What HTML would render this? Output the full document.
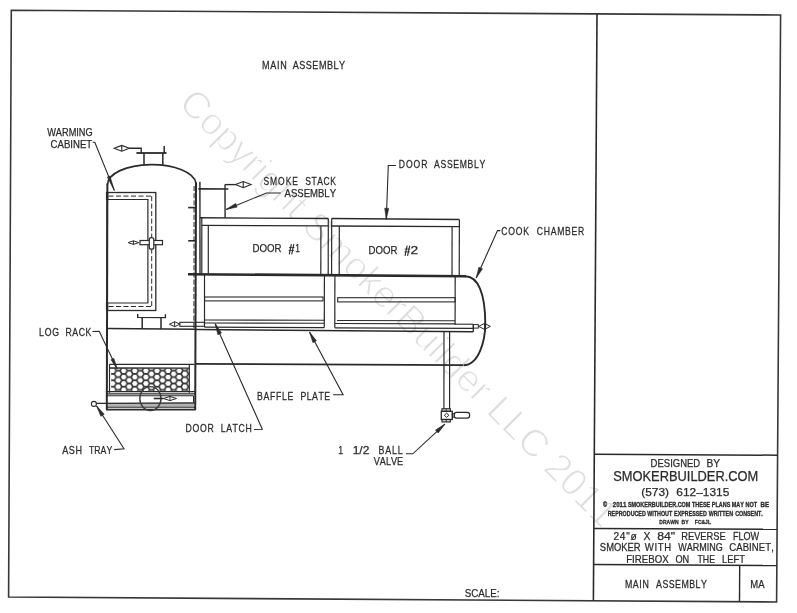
<!DOCTYPE html>
<html><head><meta charset="utf-8"><title>Main Assembly</title>
<style>
html,body{margin:0;padding:0;background:#fff;width:797px;height:613px;overflow:hidden}
svg text{font-family:"Liberation Sans",sans-serif;font-kerning:none}
</style></head>
<body>
<svg width="797" height="613" viewBox="0 0 797 613" font-family="Liberation Sans, sans-serif" style="display:block;font-kerning:none;filter:grayscale(1)"><defs>
<pattern id="hex" patternUnits="userSpaceOnUse" width="11.1" height="6.4" x="112.6" y="367.5">
<rect width="11.1" height="6.4" fill="#383838"/><polygon points="-2.750,0 -1.375,-2.382 1.375,-2.382 2.750,0 1.375,2.382 -1.375,2.382" fill="#fff" transform="translate(0 3.2)"/><polygon points="-2.750,0 -1.375,-2.382 1.375,-2.382 2.750,0 1.375,2.382 -1.375,2.382" fill="#fff" transform="translate(11.1 3.2)"/><polygon points="-2.750,0 -1.375,-2.382 1.375,-2.382 2.750,0 1.375,2.382 -1.375,2.382" fill="#fff" transform="translate(5.55 0)"/><polygon points="-2.750,0 -1.375,-2.382 1.375,-2.382 2.750,0 1.375,2.382 -1.375,2.382" fill="#fff" transform="translate(5.55 6.4)"/>
</pattern>
</defs><rect width="797" height="613" fill="#fff"/><text x="0" y="0" font-size="38.2" fill="#dedede" stroke="#fff" stroke-width="1.2" transform="translate(177.2 104.4) rotate(45)" font-family="Liberation Sans">Copyright SmokerBuilder LLC 2011</text>
<path d="M11.30 10.30 L780.60 15.00 L776.60 602.00 L8.60 597.00 Z" stroke="#383838" stroke-width="1.6" fill="none" stroke-linejoin="miter" />
<line x1="597.00" y1="14.00" x2="593.40" y2="600.60" stroke="#2a2a2a" stroke-width="1.6" />
<line x1="594.70" y1="454.20" x2="777.60" y2="455.20" stroke="#2a2a2a" stroke-width="1.5" />
<line x1="593.90" y1="528.40" x2="777.00" y2="529.20" stroke="#2a2a2a" stroke-width="1.5" />
<line x1="593.60" y1="564.40" x2="776.80" y2="565.60" stroke="#2a2a2a" stroke-width="1.5" />
<line x1="739.70" y1="565.50" x2="739.50" y2="601.90" stroke="#2a2a2a" stroke-width="1.4" />
<line x1="107.40" y1="183.50" x2="106.80" y2="409.80" stroke="#2a2a2a" stroke-width="2.0" />
<line x1="196.00" y1="182.50" x2="195.20" y2="409.80" stroke="#2a2a2a" stroke-width="2.0" />
<path d="M107.5 184.5 A44.3 20 0 0 1 196.0 183.2" stroke="#2a2a2a" stroke-width="1.7" fill="none" />
<line x1="188.20" y1="207.60" x2="195.60" y2="207.60" stroke="#2a2a2a" stroke-width="1.6" />
<line x1="188.20" y1="240.80" x2="195.50" y2="240.80" stroke="#2a2a2a" stroke-width="1.6" />
<line x1="136.40" y1="153.00" x2="166.50" y2="153.00" stroke="#2a2a2a" stroke-width="1.8" />
<line x1="144.00" y1="153.00" x2="144.00" y2="164.60" stroke="#2a2a2a" stroke-width="1.5" />
<line x1="162.80" y1="153.00" x2="162.80" y2="165.00" stroke="#2a2a2a" stroke-width="1.5" />
<line x1="164.20" y1="146.00" x2="164.20" y2="153.50" stroke="#2a2a2a" stroke-width="1.5" />
<path d="M129.30 148.30 L141.20 148.30 L141.20 153.00" stroke="#2a2a2a" stroke-width="1.4" fill="none" stroke-linejoin="miter" />
<path d="M114.20 148.30 L121.75 145.45 L129.30 148.30 L121.75 151.15 Z" stroke="#2a2a2a" stroke-width="1.1" fill="none" stroke-linejoin="miter" />
<line x1="121.75" y1="145.45" x2="121.75" y2="151.15" stroke="#2a2a2a" stroke-width="1.1" />
<rect x="107.00" y="192.50" width="48.80" height="118.00" stroke="#2a2a2a" stroke-width="1.3" fill="none" />
<path d="M107.00 199.50 L147.90 199.50 L147.90 303.00 L107.00 303.00" stroke="#2a2a2a" stroke-width="1.2" fill="none" stroke-linejoin="miter" />
<line x1="108.50" y1="196.10" x2="151.70" y2="196.10" stroke="#2a2a2a" stroke-width="1.0" stroke-dasharray="5 2.5"/>
<line x1="151.70" y1="196.10" x2="151.70" y2="306.50" stroke="#2a2a2a" stroke-width="1.0" stroke-dasharray="5 2.5"/>
<line x1="108.50" y1="306.50" x2="151.70" y2="306.50" stroke="#2a2a2a" stroke-width="1.0" stroke-dasharray="5 2.5"/>
<rect x="106.20" y="192.50" width="1.80" height="7.00" stroke="#2a2a2a" stroke-width="0.6" fill="#2a2a2a" />
<rect x="106.20" y="303.00" width="1.80" height="7.50" stroke="#2a2a2a" stroke-width="0.6" fill="#2a2a2a" />
<path d="M128.10 242.60 L133.45 240.80 L138.80 242.60 L133.45 244.40 Z" stroke="#2a2a2a" stroke-width="1.0" fill="none" stroke-linejoin="miter" />
<line x1="133.45" y1="240.80" x2="133.45" y2="244.40" stroke="#2a2a2a" stroke-width="1.0" />
<rect x="140.00" y="240.50" width="22.50" height="4.20" stroke="#2a2a2a" stroke-width="1.2" fill="#fff" />
<rect x="149.3" y="237.6" width="4.5" height="11.6" rx="2" stroke="#2a2a2a" stroke-width="1.2" fill="#fff"/>
<path d="M137.70 314.00 L137.70 317.40 L165.40 317.60 L165.40 314.20" stroke="#2a2a2a" stroke-width="1.4" fill="none" stroke-linejoin="miter" />
<line x1="142.20" y1="317.40" x2="142.20" y2="328.80" stroke="#2a2a2a" stroke-width="1.5" />
<line x1="161.00" y1="317.50" x2="161.00" y2="329.00" stroke="#2a2a2a" stroke-width="1.5" />
<line x1="107.00" y1="328.60" x2="195.50" y2="329.20" stroke="#2a2a2a" stroke-width="1.5" />
<path d="M169.40 324.20 L174.65 321.70 L179.90 324.20 L174.65 326.70 Z" stroke="#2a2a2a" stroke-width="1.0" fill="none" stroke-linejoin="miter" />
<line x1="174.65" y1="321.70" x2="174.65" y2="326.70" stroke="#2a2a2a" stroke-width="1.0" />
<rect x="179.90" y="322.30" width="24.60" height="4.00" stroke="#2a2a2a" stroke-width="1.1" fill="none" />
<rect x="111.2" y="368.3" width="77.9" height="22.6" fill="url(#hex)" stroke="none"/>
<line x1="109.30" y1="364.30" x2="194.50" y2="364.40" stroke="#2a2a2a" stroke-width="1.2" />
<line x1="109.30" y1="368.00" x2="189.40" y2="368.10" stroke="#2a2a2a" stroke-width="1.3" />
<line x1="109.50" y1="364.30" x2="109.50" y2="392.80" stroke="#2a2a2a" stroke-width="1.2" />
<line x1="189.30" y1="364.40" x2="189.30" y2="392.80" stroke="#2a2a2a" stroke-width="1.2" />
<line x1="107.00" y1="391.60" x2="195.00" y2="391.60" stroke="#2a2a2a" stroke-width="1.3" />
<line x1="107.00" y1="393.90" x2="195.00" y2="393.90" stroke="#2a2a2a" stroke-width="1.3" />
<line x1="107.00" y1="395.80" x2="193.50" y2="395.80" stroke="#2a2a2a" stroke-width="1.1" />
<line x1="193.50" y1="395.80" x2="193.50" y2="402.50" stroke="#2a2a2a" stroke-width="1.0" />
<line x1="96.40" y1="403.40" x2="195.00" y2="403.00" stroke="#2a2a2a" stroke-width="1.4" />
<line x1="107.00" y1="405.00" x2="195.00" y2="405.00" stroke="#666" stroke-width="1.0" />
<line x1="107.00" y1="407.20" x2="195.00" y2="407.20" stroke="#2a2a2a" stroke-width="1.2" />
<line x1="106.00" y1="409.60" x2="195.80" y2="409.60" stroke="#2a2a2a" stroke-width="1.8" />
<ellipse cx="150.4" cy="398.6" rx="10.6" ry="12.0" stroke="#3a3a3a" stroke-width="1.4" fill="none"/>
<line x1="153.70" y1="398.50" x2="163.40" y2="398.50" stroke="#2a2a2a" stroke-width="1.6" />
<path d="M163.40 398.50 L169.95 396.40 L176.50 398.50 L169.95 400.60 Z" stroke="#2a2a2a" stroke-width="1.0" fill="none" stroke-linejoin="miter" />
<line x1="169.95" y1="396.40" x2="169.95" y2="400.60" stroke="#2a2a2a" stroke-width="1.0" />
<circle cx="93.9" cy="403.9" r="2.5" stroke="#2a2a2a" stroke-width="1.1" fill="#fff"/>
<line x1="194.10" y1="186.00" x2="193.90" y2="328.00" stroke="#2a2a2a" stroke-width="1.0" stroke-dasharray="5 2.2"/>
<line x1="199.90" y1="181.70" x2="200.00" y2="274.00" stroke="#2a2a2a" stroke-width="1.4" />
<line x1="198.40" y1="188.80" x2="228.40" y2="189.00" stroke="#2a2a2a" stroke-width="1.7" />
<line x1="225.00" y1="184.60" x2="225.10" y2="217.80" stroke="#2a2a2a" stroke-width="1.4" />
<line x1="225.00" y1="184.60" x2="235.50" y2="184.60" stroke="#2a2a2a" stroke-width="1.4" />
<path d="M235.50 184.60 L243.25 181.50 L251.00 184.60 L243.25 187.70 Z" stroke="#2a2a2a" stroke-width="1.1" fill="none" stroke-linejoin="miter" />
<line x1="243.25" y1="181.50" x2="243.25" y2="187.70" stroke="#2a2a2a" stroke-width="1.1" />
<line x1="199.90" y1="217.80" x2="328.40" y2="218.50" stroke="#2a2a2a" stroke-width="1.4" />
<line x1="201.80" y1="225.40" x2="328.40" y2="225.90" stroke="#2a2a2a" stroke-width="1.3" />
<line x1="201.80" y1="217.80" x2="201.80" y2="273.50" stroke="#2a2a2a" stroke-width="1.2" />
<line x1="328.30" y1="218.40" x2="328.20" y2="274.20" stroke="#2a2a2a" stroke-width="1.2" />
<line x1="208.30" y1="225.40" x2="208.30" y2="273.60" stroke="#2a2a2a" stroke-width="1.2" />
<line x1="320.90" y1="225.90" x2="320.80" y2="274.20" stroke="#2a2a2a" stroke-width="1.2" />
<line x1="331.60" y1="218.50" x2="459.40" y2="219.50" stroke="#2a2a2a" stroke-width="1.4" />
<line x1="331.60" y1="226.00" x2="459.40" y2="226.60" stroke="#2a2a2a" stroke-width="1.3" />
<line x1="331.70" y1="218.50" x2="331.60" y2="274.40" stroke="#2a2a2a" stroke-width="1.2" />
<line x1="459.40" y1="219.50" x2="459.20" y2="275.60" stroke="#2a2a2a" stroke-width="1.2" />
<line x1="339.30" y1="226.00" x2="339.20" y2="274.50" stroke="#2a2a2a" stroke-width="1.2" />
<line x1="452.10" y1="226.60" x2="452.00" y2="275.40" stroke="#2a2a2a" stroke-width="1.2" />
<line x1="188.00" y1="274.20" x2="466.00" y2="276.20" stroke="#2a2a2a" stroke-width="2.6" />
<path d="M465.0 276.2 C478.0 276.3, 485.3 293, 485.3 324 C485.3 340, 479 365.2, 463.5 365.2" stroke="#2a2a2a" stroke-width="1.9" fill="none" />
<line x1="195.50" y1="363.80" x2="463.00" y2="365.20" stroke="#2a2a2a" stroke-width="1.7" />
<line x1="455.20" y1="276.00" x2="455.10" y2="325.00" stroke="#2a2a2a" stroke-width="1.2" />
<line x1="204.50" y1="274.10" x2="204.50" y2="327.20" stroke="#2a2a2a" stroke-width="1.2" />
<line x1="324.40" y1="274.80" x2="324.30" y2="327.60" stroke="#2a2a2a" stroke-width="1.2" />
<line x1="334.90" y1="274.80" x2="334.80" y2="327.80" stroke="#2a2a2a" stroke-width="1.2" />
<rect x="204.60" y="297.00" width="118.40" height="3.90" stroke="#2a2a2a" stroke-width="1.1" fill="none" />
<rect x="337.70" y="297.70" width="117.40" height="4.20" stroke="#2a2a2a" stroke-width="1.1" fill="none" />
<path d="M204.60 320.00 L324.30 320.30" stroke="#2a2a2a" stroke-width="1.1" fill="none" stroke-linejoin="miter" />
<path d="M204.60 323.00 L324.30 323.30" stroke="#2a2a2a" stroke-width="1.1" fill="none" stroke-linejoin="miter" />
<path d="M204.50 327.20 L324.30 327.60" stroke="#2a2a2a" stroke-width="1.2" fill="none" stroke-linejoin="miter" />
<path d="M337.00 320.50 L455.00 320.80" stroke="#2a2a2a" stroke-width="1.1" fill="none" stroke-linejoin="miter" />
<path d="M334.90 323.50 L455.00 323.90" stroke="#2a2a2a" stroke-width="1.1" fill="none" stroke-linejoin="miter" />
<path d="M334.90 327.80 L473.30 328.40" stroke="#2a2a2a" stroke-width="1.2" fill="none" stroke-linejoin="miter" />
<line x1="195.50" y1="329.60" x2="473.30" y2="331.70" stroke="#2a2a2a" stroke-width="1.5" />
<line x1="473.30" y1="324.20" x2="473.30" y2="331.80" stroke="#2a2a2a" stroke-width="1.3" />
<line x1="455.00" y1="324.20" x2="473.30" y2="324.20" stroke="#2a2a2a" stroke-width="1.1" />
<rect x="473.30" y="324.60" width="5.00" height="3.50" stroke="#2a2a2a" stroke-width="1.0" fill="none" />
<path d="M478.60 326.40 L484.50 323.40 L490.40 326.40 L484.50 329.40 Z" stroke="#2a2a2a" stroke-width="1.0" fill="none" stroke-linejoin="miter" />
<line x1="484.50" y1="323.40" x2="484.50" y2="329.40" stroke="#2a2a2a" stroke-width="1.0" />
<line x1="444.00" y1="331.60" x2="443.90" y2="408.80" stroke="#2a2a2a" stroke-width="1.2" />
<line x1="449.60" y1="331.80" x2="449.60" y2="408.80" stroke="#2a2a2a" stroke-width="1.2" />
<rect x="442.00" y="408.80" width="8.30" height="2.50" stroke="#2a2a2a" stroke-width="1.2" fill="none" />
<line x1="446.20" y1="408.80" x2="446.20" y2="411.30" stroke="#2a2a2a" stroke-width="1.0" />
<rect x="441.30" y="411.30" width="11.00" height="8.20" stroke="#2a2a2a" stroke-width="1.3" fill="none" />
<path d="M444.30 415.30 L446.60 413.20 L448.90 415.30 L446.60 417.40 Z" stroke="#2a2a2a" stroke-width="1.0" fill="none" stroke-linejoin="miter" />
<rect x="452.30" y="413.70" width="2.00" height="3.50" stroke="#2a2a2a" stroke-width="1.0" fill="none" />
<rect x="454.2" y="412.4" width="15.4" height="5.8" rx="2.4" stroke="#2a2a2a" stroke-width="1.2" fill="none"/>
<rect x="442.00" y="419.50" width="8.30" height="2.40" stroke="#2a2a2a" stroke-width="1.2" fill="none" />
<line x1="446.20" y1="419.50" x2="446.20" y2="421.90" stroke="#2a2a2a" stroke-width="1.0" />
<path d="M92.60 142.20 L94.80 142.20 L114.30 190.40" stroke="#2a2a2a" stroke-width="1.1" fill="none" stroke-linejoin="miter" />
<path d="M114.30 190.40 L109.97 175.97 L107.38 177.02 Z" stroke="#2a2a2a" stroke-width="0.6" fill="#2a2a2a" stroke-linejoin="miter" />
<path d="M280.70 193.00 L266.50 193.00 L226.20 209.40" stroke="#2a2a2a" stroke-width="1.1" fill="none" stroke-linejoin="miter" />
<path d="M226.20 209.40 L237.14 207.11 L235.63 203.40 Z" stroke="#2a2a2a" stroke-width="0.6" fill="#2a2a2a" stroke-linejoin="miter" />
<path d="M396.10 165.50 L388.30 165.50 L386.30 219.30" stroke="#2a2a2a" stroke-width="1.1" fill="none" stroke-linejoin="miter" />
<path d="M386.30 219.30 L388.71 208.38 L384.71 208.23 Z" stroke="#2a2a2a" stroke-width="0.6" fill="#2a2a2a" stroke-linejoin="miter" />
<path d="M500.40 230.60 L497.50 230.60 L476.20 278.00" stroke="#2a2a2a" stroke-width="1.1" fill="none" stroke-linejoin="miter" />
<path d="M476.20 278.00 L482.53 268.79 L478.88 267.15 Z" stroke="#2a2a2a" stroke-width="0.6" fill="#2a2a2a" stroke-linejoin="miter" />
<path d="M92.50 331.50 L99.20 331.30 L117.20 369.00" stroke="#2a2a2a" stroke-width="1.1" fill="none" stroke-linejoin="miter" />
<path d="M117.20 369.00 L113.90 358.38 L111.02 359.76 Z" stroke="#2a2a2a" stroke-width="0.6" fill="#2a2a2a" stroke-linejoin="miter" />
<path d="M333.10 394.80 L343.10 394.80 L309.50 332.00" stroke="#2a2a2a" stroke-width="1.1" fill="none" stroke-linejoin="miter" />
<path d="M309.50 332.00 L312.93 342.64 L316.45 340.76 Z" stroke="#2a2a2a" stroke-width="0.6" fill="#2a2a2a" stroke-linejoin="miter" />
<path d="M254.10 429.50 L262.30 429.20 L215.20 323.80" stroke="#2a2a2a" stroke-width="1.1" fill="none" stroke-linejoin="miter" />
<path d="M215.20 323.80 L217.86 334.66 L221.51 333.03 Z" stroke="#2a2a2a" stroke-width="0.6" fill="#2a2a2a" stroke-linejoin="miter" />
<path d="M114.20 449.60 L124.00 448.80 L96.60 406.00" stroke="#2a2a2a" stroke-width="1.1" fill="none" stroke-linejoin="miter" />
<path d="M96.60 406.00 L100.85 416.34 L104.22 414.19 Z" stroke="#2a2a2a" stroke-width="0.6" fill="#2a2a2a" stroke-linejoin="miter" />
<path d="M405.90 453.80 L412.80 453.80 L444.90 424.10" stroke="#2a2a2a" stroke-width="1.1" fill="none" stroke-linejoin="miter" />
<path d="M444.90 424.10 L435.47 430.10 L438.18 433.04 Z" stroke="#2a2a2a" stroke-width="0.6" fill="#2a2a2a" stroke-linejoin="miter" />
<text x="650.62" y="466.80" font-size="10.90" font-weight="normal" textLength="49.63" lengthAdjust="spacingAndGlyphs" fill="#2a2a2a"  stroke="#2a2a2a" stroke-width="0.25">DESIGNED</text>
<text x="706.57" y="466.80" font-size="10.90" font-weight="normal" textLength="13.56" lengthAdjust="spacingAndGlyphs" fill="#2a2a2a"  stroke="#2a2a2a" stroke-width="0.25">BY</text>
<text x="613.22" y="480.70" font-size="13.95" font-weight="normal" textLength="145.04" lengthAdjust="spacingAndGlyphs" fill="#2a2a2a"  stroke="#2a2a2a" stroke-width="0.25">SMOKERBUILDER.COM</text>
<text x="641.17" y="496.00" font-size="11.05" font-weight="normal" textLength="27.85" lengthAdjust="spacingAndGlyphs" fill="#2a2a2a"  stroke="#2a2a2a" stroke-width="0.25">(573)</text>
<text x="676.26" y="496.00" font-size="11.05" font-weight="normal" textLength="53.08" lengthAdjust="spacingAndGlyphs" fill="#2a2a2a"  stroke="#2a2a2a" stroke-width="0.25">612–1315</text>
<text x="603.11" y="507.20" font-size="6.83" font-weight="bold" textLength="4.17" lengthAdjust="spacingAndGlyphs" fill="#2a2a2a"  stroke="#2a2a2a" stroke-width="0.3">©</text>
<text x="612.79" y="507.20" font-size="6.83" font-weight="bold" textLength="13.68" lengthAdjust="spacingAndGlyphs" fill="#2a2a2a"  stroke="#2a2a2a" stroke-width="0.3">2011</text>
<text x="627.88" y="507.20" font-size="6.83" font-weight="bold" textLength="62.55" lengthAdjust="spacingAndGlyphs" fill="#2a2a2a"  stroke="#2a2a2a" stroke-width="0.3">SMOKERBUILDER.COM</text>
<text x="691.97" y="507.20" font-size="6.83" font-weight="bold" textLength="18.22" lengthAdjust="spacingAndGlyphs" fill="#2a2a2a"  stroke="#2a2a2a" stroke-width="0.3">THESE</text>
<text x="711.86" y="507.20" font-size="6.83" font-weight="bold" textLength="18.52" lengthAdjust="spacingAndGlyphs" fill="#2a2a2a"  stroke="#2a2a2a" stroke-width="0.3">PLANS</text>
<text x="731.74" y="507.20" font-size="6.83" font-weight="bold" textLength="12.14" lengthAdjust="spacingAndGlyphs" fill="#2a2a2a"  stroke="#2a2a2a" stroke-width="0.3">MAY</text>
<text x="745.48" y="507.20" font-size="6.83" font-weight="bold" textLength="11.54" lengthAdjust="spacingAndGlyphs" fill="#2a2a2a"  stroke="#2a2a2a" stroke-width="0.3">NOT</text>
<text x="760.59" y="507.20" font-size="6.83" font-weight="bold" textLength="8.55" lengthAdjust="spacingAndGlyphs" fill="#2a2a2a"  stroke="#2a2a2a" stroke-width="0.3">BE</text>
<text x="607.76" y="515.90" font-size="6.69" font-weight="bold" textLength="38.04" lengthAdjust="spacingAndGlyphs" fill="#2a2a2a"  stroke="#2a2a2a" stroke-width="0.3">REPRODUCED</text>
<text x="647.30" y="515.90" font-size="6.69" font-weight="bold" textLength="24.96" lengthAdjust="spacingAndGlyphs" fill="#2a2a2a"  stroke="#2a2a2a" stroke-width="0.3">WITHOUT</text>
<text x="674.08" y="515.90" font-size="6.69" font-weight="bold" textLength="32.70" lengthAdjust="spacingAndGlyphs" fill="#2a2a2a"  stroke="#2a2a2a" stroke-width="0.3">EXPRESSED</text>
<text x="708.65" y="515.90" font-size="6.69" font-weight="bold" textLength="24.36" lengthAdjust="spacingAndGlyphs" fill="#2a2a2a"  stroke="#2a2a2a" stroke-width="0.3">WRITTEN</text>
<text x="735.16" y="515.90" font-size="6.69" font-weight="bold" textLength="27.64" lengthAdjust="spacingAndGlyphs" fill="#2a2a2a"  stroke="#2a2a2a" stroke-width="0.3">CONSENT.</text>
<text x="659.37" y="524.00" font-size="6.25" font-weight="bold" textLength="19.16" lengthAdjust="spacingAndGlyphs" fill="#2a2a2a"  stroke="#2a2a2a" stroke-width="0.3">DRAWN</text>
<text x="681.55" y="524.00" font-size="6.25" font-weight="bold" textLength="6.95" lengthAdjust="spacingAndGlyphs" fill="#2a2a2a"  stroke="#2a2a2a" stroke-width="0.3">BY</text>
<text x="694.85" y="524.00" font-size="6.25" font-weight="bold" textLength="16.11" lengthAdjust="spacingAndGlyphs" fill="#2a2a2a"  stroke="#2a2a2a" stroke-width="0.3">FC&amp;JL</text>
<text x="0" y="0" font-size="11.34" font-weight="normal" letter-spacing="0.683" transform="translate(613.59 539.50) scale(0.900 1)" fill="#2a2a2a"  stroke="#2a2a2a" stroke-width="0.25">24"ø</text>
<text x="643.47" y="539.50" font-size="11.34" font-weight="normal" textLength="6.95" lengthAdjust="spacingAndGlyphs" fill="#2a2a2a"  stroke="#2a2a2a" stroke-width="0.25">X</text>
<text x="657.21" y="539.50" font-size="11.34" font-weight="normal" textLength="17.97" lengthAdjust="spacingAndGlyphs" fill="#2a2a2a"  stroke="#2a2a2a" stroke-width="0.25">84"</text>
<text x="0" y="0" font-size="11.34" font-weight="normal" letter-spacing="0.000" transform="translate(681.24 539.50) scale(0.821 1)" fill="#2a2a2a"  stroke="#2a2a2a" stroke-width="0.25">REVERSE</text>
<text x="0" y="0" font-size="11.34" font-weight="normal" letter-spacing="0.000" transform="translate(732.95 539.50) scale(0.802 1)" fill="#2a2a2a"  stroke="#2a2a2a" stroke-width="0.25">FLOW</text>
<text x="0" y="0" font-size="10.61" font-weight="normal" letter-spacing="0.000" transform="translate(599.87 550.80) scale(0.886 1)" fill="#2a2a2a"  stroke="#2a2a2a" stroke-width="0.25">SMOKER</text>
<text x="0" y="0" font-size="10.61" font-weight="normal" letter-spacing="0.676" transform="translate(644.86 550.80) scale(0.900 1)" fill="#2a2a2a"  stroke="#2a2a2a" stroke-width="0.25">WITH</text>
<text x="0" y="0" font-size="10.61" font-weight="normal" letter-spacing="0.000" transform="translate(678.26 550.80) scale(0.850 1)" fill="#2a2a2a"  stroke="#2a2a2a" stroke-width="0.25">WARMING</text>
<text x="0" y="0" font-size="10.61" font-weight="normal" letter-spacing="0.096" transform="translate(729.22 550.80) scale(0.900 1)" fill="#2a2a2a"  stroke="#2a2a2a" stroke-width="0.25">CABINET,</text>
<text x="0" y="0" font-size="10.76" font-weight="normal" letter-spacing="0.000" transform="translate(626.21 562.60) scale(0.898 1)" fill="#2a2a2a"  stroke="#2a2a2a" stroke-width="0.25">FIREBOX</text>
<text x="0" y="0" font-size="10.76" font-weight="normal" letter-spacing="0.000" transform="translate(675.46 562.60) scale(0.854 1)" fill="#2a2a2a"  stroke="#2a2a2a" stroke-width="0.25">ON</text>
<text x="0" y="0" font-size="10.76" font-weight="normal" letter-spacing="0.000" transform="translate(697.50 562.60) scale(0.812 1)" fill="#2a2a2a"  stroke="#2a2a2a" stroke-width="0.25">THE</text>
<text x="0" y="0" font-size="10.76" font-weight="normal" letter-spacing="0.000" transform="translate(722.03 562.60) scale(0.874 1)" fill="#2a2a2a"  stroke="#2a2a2a" stroke-width="0.25">LEFT</text>
<text x="0" y="0" font-size="11.05" font-weight="normal" letter-spacing="0.772" transform="translate(624.88 587.70) scale(0.800 1)" fill="#2a2a2a"  stroke="#2a2a2a" stroke-width="0.25">MAIN</text>
<text x="0" y="0" font-size="11.05" font-weight="normal" letter-spacing="0.566" transform="translate(656.08 587.70) scale(0.800 1)" fill="#2a2a2a"  stroke="#2a2a2a" stroke-width="0.25">ASSEMBLY</text>
<text x="750.32" y="587.80" font-size="11.05" font-weight="normal" textLength="14.30" lengthAdjust="spacingAndGlyphs" fill="#2a2a2a"  stroke="#2a2a2a" stroke-width="0.25">MA</text>
<text x="464.66" y="597.20" font-size="11.63" font-weight="normal" textLength="34.84" lengthAdjust="spacingAndGlyphs" fill="#2a2a2a"  stroke="#2a2a2a" stroke-width="0.25">SCALE:</text>
<text x="0" y="0" font-size="11.34" font-weight="normal" letter-spacing="0.837" transform="translate(262.06 68.50) scale(0.800 1)" fill="#2a2a2a"  stroke="#2a2a2a" stroke-width="0.25">MAIN</text>
<text x="0" y="0" font-size="11.34" font-weight="normal" letter-spacing="0.646" transform="translate(292.68 68.50) scale(0.800 1)" fill="#2a2a2a"  stroke="#2a2a2a" stroke-width="0.25">ASSEMBLY</text>
<text x="47.16" y="136.30" font-size="10.76" font-weight="normal" textLength="45.53" lengthAdjust="spacingAndGlyphs" fill="#2a2a2a"  stroke="#2a2a2a" stroke-width="0.25">WARMING</text>
<text x="50.61" y="147.50" font-size="10.76" font-weight="normal" textLength="41.61" lengthAdjust="spacingAndGlyphs" fill="#2a2a2a"  stroke="#2a2a2a" stroke-width="0.25">CABINET</text>
<text x="0" y="0" font-size="10.61" font-weight="normal" letter-spacing="1.216" transform="translate(263.41 184.80) scale(0.800 1)" fill="#2a2a2a"  stroke="#2a2a2a" stroke-width="0.25">SMOKE</text>
<text x="0" y="0" font-size="10.61" font-weight="normal" letter-spacing="0.713" transform="translate(305.31 184.80) scale(0.800 1)" fill="#2a2a2a"  stroke="#2a2a2a" stroke-width="0.25">STACK</text>
<text x="284.58" y="196.60" font-size="10.90" font-weight="normal" textLength="51.43" lengthAdjust="spacingAndGlyphs" fill="#2a2a2a"  stroke="#2a2a2a" stroke-width="0.25">ASSEMBLY</text>
<text x="0" y="0" font-size="10.76" font-weight="normal" letter-spacing="1.163" transform="translate(398.79 167.80) scale(0.800 1)" fill="#2a2a2a"  stroke="#2a2a2a" stroke-width="0.25">DOOR</text>
<text x="0" y="0" font-size="10.76" font-weight="normal" letter-spacing="0.842" transform="translate(434.08 167.80) scale(0.800 1)" fill="#2a2a2a"  stroke="#2a2a2a" stroke-width="0.25">ASSEMBLY</text>
<text x="0" y="0" font-size="10.76" font-weight="normal" letter-spacing="1.081" transform="translate(501.16 235.10) scale(0.800 1)" fill="#2a2a2a"  stroke="#2a2a2a" stroke-width="0.25">COOK</text>
<text x="0" y="0" font-size="10.76" font-weight="normal" letter-spacing="0.897" transform="translate(536.86 235.10) scale(0.800 1)" fill="#2a2a2a"  stroke="#2a2a2a" stroke-width="0.25">CHAMBER</text>
<text x="252.51" y="252.20" font-size="10.76" font-weight="normal" textLength="29.04" lengthAdjust="spacingAndGlyphs" fill="#2a2a2a"  stroke="#2a2a2a" stroke-width="0.25">DOOR</text>
<line x1="291.35" y1="244.10" x2="289.30" y2="254.30" stroke="#2a2a2a" stroke-width="1.1" />
<line x1="293.80" y1="244.10" x2="291.75" y2="254.30" stroke="#2a2a2a" stroke-width="1.1" />
<line x1="289.00" y1="247.57" x2="294.40" y2="247.57" stroke="#2a2a2a" stroke-width="0.8800000000000001" />
<line x1="288.70" y1="250.42" x2="293.90" y2="250.42" stroke="#2a2a2a" stroke-width="0.8800000000000001" />
<text x="295.16" y="252.40" font-size="10.61" font-weight="normal" textLength="4.64" lengthAdjust="spacingAndGlyphs" fill="#2a2a2a"  stroke="#2a2a2a" stroke-width="0.25">1</text>
<text x="368.61" y="253.70" font-size="11.34" font-weight="normal" textLength="28.94" lengthAdjust="spacingAndGlyphs" fill="#2a2a2a"  stroke="#2a2a2a" stroke-width="0.25">DOOR</text>
<line x1="407.13" y1="245.60" x2="405.00" y2="255.80" stroke="#2a2a2a" stroke-width="1.1" />
<line x1="409.70" y1="245.60" x2="407.57" y2="255.80" stroke="#2a2a2a" stroke-width="1.1" />
<line x1="404.70" y1="249.07" x2="410.30" y2="249.07" stroke="#2a2a2a" stroke-width="0.8800000000000001" />
<line x1="404.40" y1="251.92" x2="409.80" y2="251.92" stroke="#2a2a2a" stroke-width="0.8800000000000001" />
<text x="410.60" y="253.70" font-size="11.19" font-weight="normal" textLength="7.69" lengthAdjust="spacingAndGlyphs" fill="#2a2a2a"  stroke="#2a2a2a" stroke-width="0.25">2</text>
<text x="0" y="0" font-size="10.90" font-weight="normal" letter-spacing="0.906" transform="translate(39.08 335.60) scale(0.800 1)" fill="#2a2a2a"  stroke="#2a2a2a" stroke-width="0.25">LOG</text>
<text x="0" y="0" font-size="10.90" font-weight="normal" letter-spacing="0.660" transform="translate(65.48 335.60) scale(0.800 1)" fill="#2a2a2a"  stroke="#2a2a2a" stroke-width="0.25">RACK</text>
<text x="0" y="0" font-size="10.90" font-weight="normal" letter-spacing="0.834" transform="translate(257.08 399.50) scale(0.800 1)" fill="#2a2a2a"  stroke="#2a2a2a" stroke-width="0.25">BAFFLE</text>
<text x="0" y="0" font-size="10.90" font-weight="normal" letter-spacing="0.644" transform="translate(300.38 399.50) scale(0.800 1)" fill="#2a2a2a"  stroke="#2a2a2a" stroke-width="0.25">PLATE</text>
<text x="0" y="0" font-size="10.90" font-weight="normal" letter-spacing="0.815" transform="translate(185.58 432.00) scale(0.800 1)" fill="#2a2a2a"  stroke="#2a2a2a" stroke-width="0.25">DOOR</text>
<text x="0" y="0" font-size="10.90" font-weight="normal" letter-spacing="0.793" transform="translate(220.68 432.00) scale(0.800 1)" fill="#2a2a2a"  stroke="#2a2a2a" stroke-width="0.25">LATCH</text>
<text x="0" y="0" font-size="11.34" font-weight="normal" letter-spacing="0.755" transform="translate(62.18 453.90) scale(0.800 1)" fill="#2a2a2a"  stroke="#2a2a2a" stroke-width="0.25">ASH</text>
<text x="0" y="0" font-size="11.34" font-weight="normal" letter-spacing="0.000" transform="translate(89.00 453.90) scale(0.767 1)" fill="#2a2a2a"  stroke="#2a2a2a" stroke-width="0.25">TRAY</text>
<text x="338.22" y="453.80" font-size="11.05" font-weight="normal" textLength="4.91" lengthAdjust="spacingAndGlyphs" fill="#2a2a2a"  stroke="#2a2a2a" stroke-width="0.25">1</text>
<text x="352.70" y="453.80" font-size="11.05" font-weight="normal" textLength="16.58" lengthAdjust="spacingAndGlyphs" fill="#2a2a2a"  stroke="#2a2a2a" stroke-width="0.25">1/2</text>
<text x="0" y="0" font-size="11.05" font-weight="normal" letter-spacing="1.042" transform="translate(378.48 453.80) scale(0.800 1)" fill="#2a2a2a"  stroke="#2a2a2a" stroke-width="0.25">BALL</text>
<text x="373.76" y="465.30" font-size="10.90" font-weight="normal" textLength="29.33" lengthAdjust="spacingAndGlyphs" fill="#2a2a2a"  stroke="#2a2a2a" stroke-width="0.25">VALVE</text></svg>
</body></html>
